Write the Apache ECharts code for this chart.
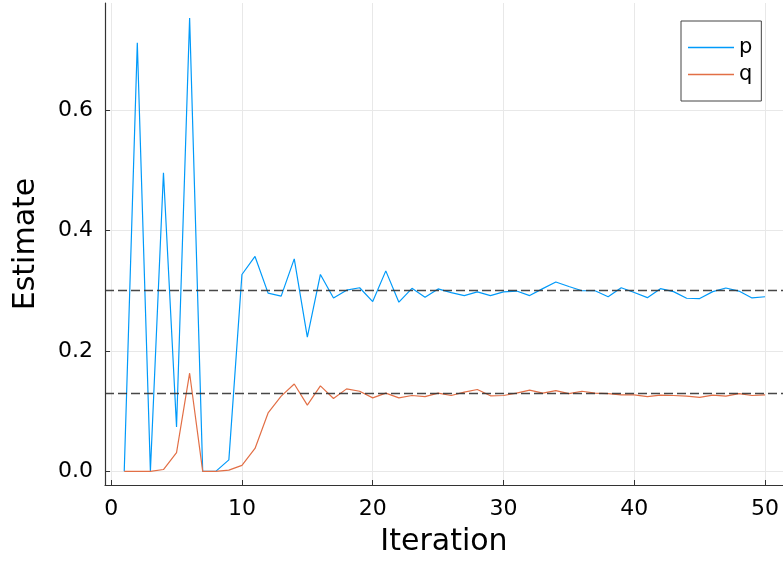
<!DOCTYPE html>
<html>
<head>
<meta charset="utf-8">
<script src="https://cdn.jsdelivr.net/npm/echarts@6/dist/echarts.min.js"></script>
<style>
html,body{margin:0;padding:0;background:#fff;}
#chart{width:783px;height:562px;}
</style>
</head>
<body>
<div id="chart"></div>
<script>
const iterations = [1,2,3,4,5,6,7,8,9,10,11,12,13,14,15,16,17,18,19,20,21,22,23,24,25,26,27,28,29,30,31,32,33,34,35,36,37,38,39,40,41,42,43,44,45,46,47,48,49,50];
const pValues = [0, 0.712, 0, 0.496, 0.0735, 0.753, 0, 0, 0.019, 0.327,
  0.357, 0.296, 0.291, 0.353, 0.223, 0.327, 0.288, 0.301, 0.305, 0.282,
  0.333, 0.281, 0.304, 0.289, 0.303, 0.297, 0.292, 0.298, 0.292, 0.298,
  0.2995, 0.292, 0.3035, 0.3145, 0.307, 0.300, 0.300, 0.290, 0.305, 0.297,
  0.2885, 0.3035, 0.2985, 0.2875, 0.287, 0.2985, 0.3045, 0.2995, 0.288, 0.290];
const qValues = [0, 0, 0, 0.003, 0.031, 0.163, 0, 0, 0.002, 0.010,
  0.038, 0.097, 0.125, 0.145, 0.110, 0.142, 0.121, 0.137, 0.133, 0.122,
  0.130, 0.122, 0.126, 0.124, 0.130, 0.126, 0.1315, 0.136, 0.1255, 0.126,
  0.130, 0.135, 0.130, 0.134, 0.129, 0.133, 0.130, 0.129, 0.127, 0.127,
  0.124, 0.1265, 0.126, 0.125, 0.123, 0.1265, 0.125, 0.129, 0.126, 0.127];
const referenceLines = [0.3, 0.128];
const seriesNames = ['p', 'q'];
const seriesColors = ['#009AFA', '#E26F46'];
const xTitle = 'Iteration';
const yTitle = 'Estimate';

const FONT = 'DejaVu Sans';
const chart = echarts.init(document.getElementById('chart'), null, {renderer: 'canvas'});

function pairs(vals) { return iterations.map((x, i) => [x, vals[i]]); }

const option = {
  animation: false,
  backgroundColor: '#ffffff',
  textStyle: {fontFamily: FONT},
  grid: {left: 105, right: 0, top: 3, bottom: 76, containLabel: false},
  legend: {
    left: 681, top: 21, orient: 'vertical',
    padding: [16, 9, 16, 7],
    icon: 'rect',
    itemWidth: 46, itemHeight: 1.6, itemGap: 6,
    borderColor: '#444', borderWidth: 1, backgroundColor: '#fff',
    textStyle: {fontFamily: FONT, fontSize: 21, color: '#000', lineHeight: 20},
    data: seriesNames
  },
  xAxis: {
    type: 'value', min: -0.47, max: 51.37, splitNumber: 5,
    name: xTitle, nameLocation: 'middle', nameGap: 42,
    nameTextStyle: {fontFamily: FONT, fontSize: 30, color: '#000'},
    axisLine: {show: true, onZero: false, lineStyle: {color: '#333', width: 1.2}},
    axisTick: {show: true, inside: true, length: 5, lineStyle: {color: '#333'}},
    axisLabel: {fontFamily: FONT, fontSize: 22, color: '#000', margin: 13,
      showMinLabel: false, showMaxLabel: false,
      formatter: v => (Math.abs(v % 10) < 1e-9 ? String(Math.round(v)) : '')},
    splitLine: {show: true, showMinLine: false, showMaxLine: false, lineStyle: {color: '#e8e8e8', width: 1}}
  },
  yAxis: {
    type: 'value', min: -0.0227, max: 0.778, splitNumber: 5,
    name: yTitle, nameLocation: 'middle', nameRotate: 90, nameGap: 64,
    nameTextStyle: {fontFamily: FONT, fontSize: 30, color: '#000'},
    axisLine: {show: true, onZero: false, lineStyle: {color: '#333', width: 1.2}},
    axisTick: {show: true, inside: true, length: 5, lineStyle: {color: '#333'}},
    axisLabel: {fontFamily: FONT, fontSize: 22, color: '#000', margin: 12,
      showMinLabel: false, showMaxLabel: false,
      formatter: v => (Math.abs(Math.round(v * 5) - v * 5) < 1e-6 ? v.toFixed(1) : '')},
    splitLine: {show: true, showMinLine: false, showMaxLine: false, lineStyle: {color: '#e8e8e8', width: 1}}
  },
  series: [
    {
      name: seriesNames[0], type: 'line', data: pairs(pValues),
      symbol: 'none', lineStyle: {color: seriesColors[0], width: 1.2}, itemStyle: {color: seriesColors[0]},
      z: 3,
      markLine: {
        silent: true, symbol: ['none', 'none'], label: {show: false},
        lineStyle: {color: '#333', type: [9, 4], width: 1.4, opacity: 0.9},
        data: referenceLines.map(v => ({yAxis: v}))
      }
    },
    {
      name: seriesNames[1], type: 'line', data: pairs(qValues),
      symbol: 'none', lineStyle: {color: seriesColors[1], width: 1.2}, itemStyle: {color: seriesColors[1]},
      z: 3
    }
  ]
};
chart.setOption(option);
</script>
</body>
</html>
